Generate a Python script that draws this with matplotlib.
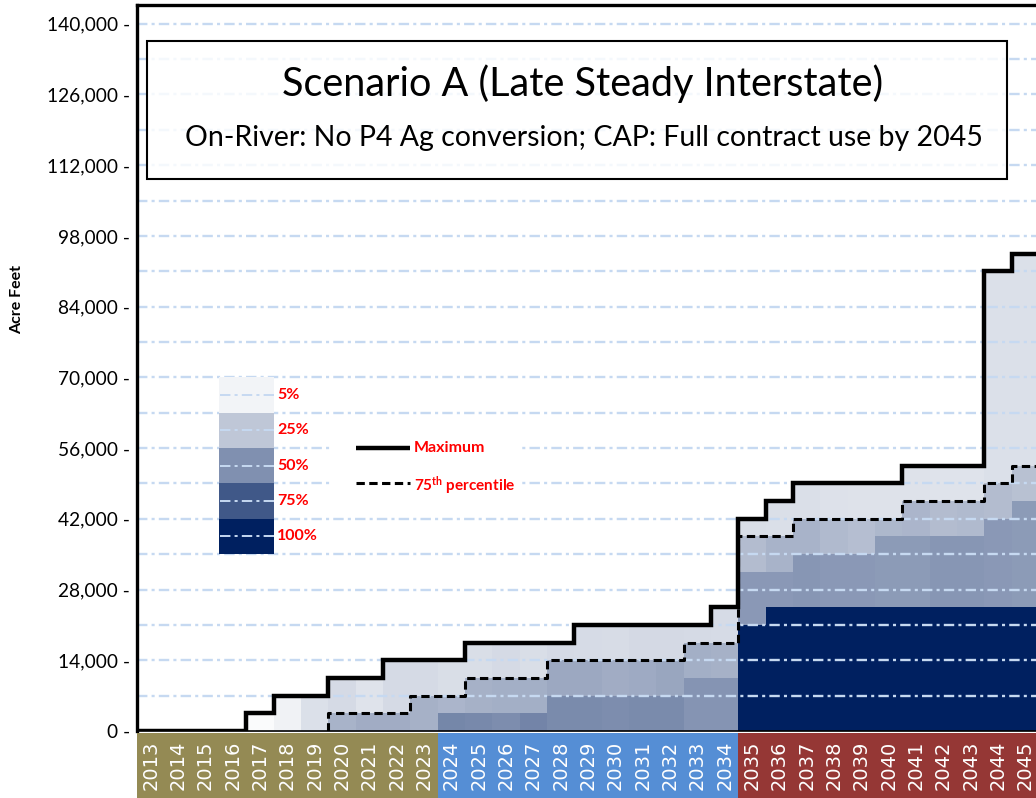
import numpy as np
import matplotlib
matplotlib.use("Agg")
import matplotlib.pyplot as plt
from matplotlib.patches import Rectangle

plt.rcParams['font.family'] = ['Lato', 'DejaVu Sans']
plt.rcParams['lines.scale_dashes'] = False
plt.rcParams['mathtext.fontset'] = 'custom'
plt.rcParams['mathtext.rm'] = 'Lato'
plt.rcParams['mathtext.bf'] = 'Lato:bold'

# ---------------- data ----------------
years = list(range(2013, 2046))
period_names = ["tan", "blue", "red"]
period_first_year = [2013, 2024, 2035]

max_line = [0, 0, 0, 0, 3500, 7000, 7000, 10500, 10500, 14000, 14000, 14000,
            17500, 17500, 17500, 17500, 21000, 21000, 21000, 21000, 21000, 24500,
            42000, 45500, 49000, 49000, 49000, 49000, 52500, 52500, 52500, 91000, 94500]

p75_start_year = 2020
p75_line = [3500, 3500, 3500, 7000, 7000, 10500, 10500, 10500, 14000, 14000, 14000,
            14000, 14000, 17500, 17500, 38500, 38500, 42000, 42000, 42000, 42000,
            45500, 45500, 45500, 49000, 52500]

# upper edge of each shaded band in a year's column (acre-feet) ...
cell_tops = [
    [], [], [], [],
    [3500],
    [7000],
    [7000],
    [3500, 10500],
    [3500, 10500],
    [3500, 14000],
    [7000, 14000],
    [3500, 7000, 14000],
    [3500, 10500, 17500],
    [3500, 10500, 17500],
    [3500, 10500, 17500],
    [7000, 14000, 17500],
    [7000, 14000, 21000],
    [7000, 14000, 21000],
    [7000, 14000, 21000],
    [7000, 14000, 21000],
    [10500, 17500, 21000],
    [10500, 17500, 24500],
    [21000, 31500, 38500, 42000],
    [24500, 31500, 38500, 45500],
    [24500, 35000, 42000, 49000],
    [24500, 35000, 42000, 49000],
    [24500, 35000, 42000, 49000],
    [24500, 38500, 42000, 49000],
    [24500, 38500, 45500, 52500],
    [24500, 38500, 45500, 52500],
    [24500, 38500, 45500, 52500],
    [24500, 42000, 49000, 91000],
    [24500, 45500, 52500, 94500],
]
# ... and the share of traces (0..1) that sets its shade
cell_share = [
    [], [], [], [],
    [0.02],
    [0.06],
    [0.14],
    [0.34, 0.165],
    [0.37, 0.125],
    [0.37, 0.165],
    [0.35, 0.165],
    [0.54, 0.33, 0.15],
    [0.53, 0.35, 0.15],
    [0.51, 0.36, 0.165],
    [0.55, 0.36, 0.15],
    [0.52, 0.39, 0.165],
    [0.52, 0.39, 0.16],
    [0.51, 0.37, 0.155],
    [0.52, 0.38, 0.17],
    [0.52, 0.40, 0.17],
    [0.48, 0.36, 0.165],
    [0.48, 0.35, 0.16],
    [1.0, 0.46, 0.30, 0.15],
    [1.0, 0.46, 0.34, 0.145],
    [1.0, 0.47, 0.34, 0.145],
    [1.0, 0.46, 0.31, 0.135],
    [1.0, 0.46, 0.29, 0.13],
    [1.0, 0.45, 0.32, 0.13],
    [1.0, 0.45, 0.33, 0.13],
    [1.0, 0.47, 0.30, 0.125],
    [1.0, 0.47, 0.31, 0.125],
    [1.0, 0.46, 0.30, 0.14],
    [1.0, 0.45, 0.28, 0.14],
]

legend_shares = [0.05, 0.25, 0.50, 0.75, 1.00]
legend_labels = ["5%", "25%", "50%", "75%", "100%"]

yticks = list(range(0, 140001, 14000))
title = "Scenario A (Late Steady Interstate)"
subtitle = "On-River: No P4 Ag conversion; CAP: Full contract use by 2045"

# ---------------- style ----------------
NAVY = np.array([0, 32, 96]) / 255.0
WHITE = np.array([1.0, 1.0, 1.0])
def shade(p):
    return tuple(WHITE * (1 - p) + NAVY * p)

band_colors = {"tan": "#948A54", "blue": "#558ED5", "red": "#953735"}
GRID = "#C6D9F1"
RED = "#FF0000"

W, H = 1036, 798
fig = plt.figure(figsize=(W / 100, H / 100), dpi=100)
L, R, T, B = 137, 1039, 5, 731
ax = fig.add_axes([L / W, 1 - B / H, (R - L) / W, (B - T) / H])
n = len(years)
ax.set_xlim(0, n)
ax.set_ylim(0, 143700)

# cells
for i, (tops, shares) in enumerate(zip(cell_tops, cell_share)):
    bottom = 0
    for top, p in zip(tops, shares):
        ax.bar(i, top - bottom, bottom=bottom, width=1.0, align='edge',
               color=shade(p), edgecolor='none', zorder=1)
        bottom = top

# grid lines every 7000
for g in range(7000, 140001, 7000):
    ax.axhline(g, color=GRID, lw=1.7, linestyle=(0, (7.5, 3.0, 2.2, 3.0)), zorder=2)

# legend colour stack
lx0, lx1 = 3.0, 5.0
for k, (p, lab) in enumerate(zip(legend_shares, legend_labels)):
    top = 70000 - 7000 * k
    ax.add_patch(Rectangle((lx0, top - 7000), lx1 - lx0, 7000, facecolor=shade(p),
                           edgecolor='none', zorder=3))
    ax.plot([lx0 + 0.05, lx1], [top - 3500] * 2, color=GRID, lw=1.4,
            linestyle=(0, (7.5, 3.0, 2.2, 3.0)), zorder=3.5)
    ax.text(lx1 + 0.12, top - 3500, lab, color=RED, fontsize=11.5, fontweight='bold',
            va='center', ha='left', zorder=4)

# white patch behind line legend
ax.add_patch(Rectangle((7.06, 45700), 6.9, 13900, facecolor='white', edgecolor='none', zorder=3))
ax.plot([8.0, 10.0], [56000, 56000], color='black', lw=3.2, solid_capstyle='butt', zorder=4)
ax.text(10.12, 56000, "Maximum", color=RED, fontsize=11.5, fontweight='bold',
        va='center', ha='left', zorder=4)
ax.plot([8.0, 10.0], [49000, 49000], color='black', lw=2.2, linestyle=(0, (6, 3.2)), zorder=4)
ax.text(10.12, 48500, r"$\mathbf{75^{th}}$" + " percentile", color=RED, fontsize=11,
        fontweight='bold', va='center', ha='left', zorder=4)

# maximum line (solid step)
edges = np.arange(n + 1)
mx = np.repeat(edges, 2)[1:-1]
my = np.repeat(max_line, 2)
ax.plot(mx, my, color='black', lw=3.2, solid_joinstyle='miter', zorder=5, clip_on=True)

# 75th percentile (dashed step)
s = years.index(p75_start_year)
pe = np.arange(s, s + len(p75_line) + 1)
px = np.concatenate([[s], np.repeat(pe, 2)[1:-1]])
py = np.concatenate([[0], np.repeat(p75_line, 2)])
ax.plot(px, py, color='black', lw=2.2, linestyle=(0, (6, 3.2)), zorder=5)

# title box
ax.add_patch(Rectangle((0.366, 109300), 31.45, 27300, facecolor=(1, 1, 1, 0.82),
                       edgecolor='black', lw=1.5, zorder=6))
ax.text(16.31, 128100, title, fontsize=28.5, ha='center', va='center', zorder=7)
ax.text(16.35, 117400, subtitle, fontsize=20.5, ha='center', va='center', zorder=7)

# axes cosmetics
ax.set_yticks(yticks)
ax.set_yticklabels([f"{v:,} -" for v in yticks], fontsize=13.8)
ax.tick_params(axis='y', length=0, pad=5)
ax.set_xticks([])
for side in ['left', 'top']:
    ax.spines[side].set_linewidth(2.4)
ax.spines['right'].set_visible(False)
ax.spines['bottom'].set_linewidth(1.2)
ax.spines['left'].set_zorder(8)
fig.text(17 / W, 1 - 300 / H, "Acre Feet", rotation=90, fontsize=11.5, fontweight='bold',
         ha='center', va='center')

# coloured year band
bx = fig.add_axes([L / W, 0, (R - L) / W, (H - 733) / H])
bx.set_xlim(0, n)
bx.set_ylim(0, 1)
bx.axis('off')
for i, y in enumerate(years):
    k = sum(1 for f in period_first_year if y >= f) - 1
    bx.bar(i, 1, width=1.0, align='edge', color=band_colors[period_names[k]], edgecolor='none')
    bx.text(i + 0.5, 0.5, str(y), rotation=90, color='white', fontsize=14,
            family='DejaVu Sans', ha='center', va='center')

fig.savefig("out.png", dpi=100)
